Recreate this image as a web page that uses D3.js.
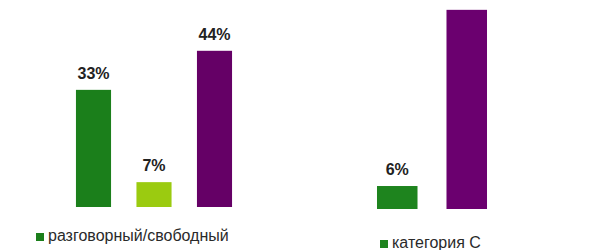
<!DOCTYPE html>
<html>
<head>
<meta charset="utf-8">
<script src="https://cdn.jsdelivr.net/npm/d3@7"></script>
<style>
    body { margin: 0; background: #fff; }
    svg { display: block; font-family: "Liberation Sans", Arial, sans-serif; }
</style>
</head>
<body>
<script>
// Left panel
const leftCategories = ["разговорный/свободный", "средний", "высокий"];
const leftValues = [33, 7, 44];
const leftLabels = ["33%", "7%", "44%"];
const leftLegend = ["разговорный/свободный"];

// Right panel (the purple bar's label sits above the visible area, so it is left out)
const rightCategories = ["категория С", "другие"];
const rightValues = [6, 52];
const rightLabels = ["6%", null];
const rightLegend = ["категория С"];

const leftColors = ["#1b7f1b", "#9bcb10", "#650066"];
const rightColors = ["#1e841e", "#6b006f"];

const svg = d3.select("body").append("svg")
    .attr("width", 600)
    .attr("height", 250);

// Draws one small bar chart panel
function drawPanel(cats, values, labels, colors, xRange, inner, outer, yBase, pxPerUnit, legend, legendPos) {
    const x = d3.scaleBand()
        .domain(cats)
        .range(xRange)
        .paddingInner(inner)
        .paddingOuter(outer);
    const y = d3.scaleLinear()
        .domain([0, 50])
        .range([yBase, yBase - 50 * pxPerUnit]);

    const g = svg.append("g");

    g.selectAll(".bar")
        .data(values)
        .enter()
        .append("rect")
        .attr("class", "bar")
        .attr("x", (d, i) => x(cats[i]))
        .attr("y", d => y(d))
        .attr("width", x.bandwidth())
        .attr("height", d => y(0) - y(d))
        .attr("fill", (d, i) => colors[i]);

    const labelled = values.map((v, i) => [v, i]).filter(d => labels[d[1]]);
    g.selectAll(".label")
        .data(labelled)
        .enter()
        .append("text")
        .attr("class", "label")
        .attr("x", d => x(cats[d[1]]) + x.bandwidth() / 2)
        .attr("y", d => y(d[0]) - 11)
        .attr("text-anchor", "middle")
        .attr("font-size", 16)
        .attr("font-weight", "bold")
        .attr("fill", "#222")
        .text(d => labels[d[1]]);

    // Legend (only the visible entries)
    const lg = g.append("g").attr("transform", `translate(${legendPos[0]},${legendPos[1]})`);
    legend.forEach((name, i) => {
        lg.append("rect")
            .attr("x", 0)
            .attr("y", -8)
            .attr("width", 8)
            .attr("height", 8)
            .attr("fill", colors[i]);
        lg.append("text")
            .attr("x", 12)
            .attr("y", 0)
            .attr("font-size", 16)
            .attr("fill", "#2a2a2a")
            .text(name);
    });
}

drawPanel(leftCategories, leftValues, leftLabels, leftColors,
    [63.25, 244.75], 0.42, 0.21, 207, 3.55, leftLegend, [36, 241]);
drawPanel(rightCategories, rightValues, rightLabels, rightColors,
    [362.5, 501.5], 0.417, 0.2085, 209, 3.83, rightLegend, [380, 248]);
</script>
</body>
</html>
